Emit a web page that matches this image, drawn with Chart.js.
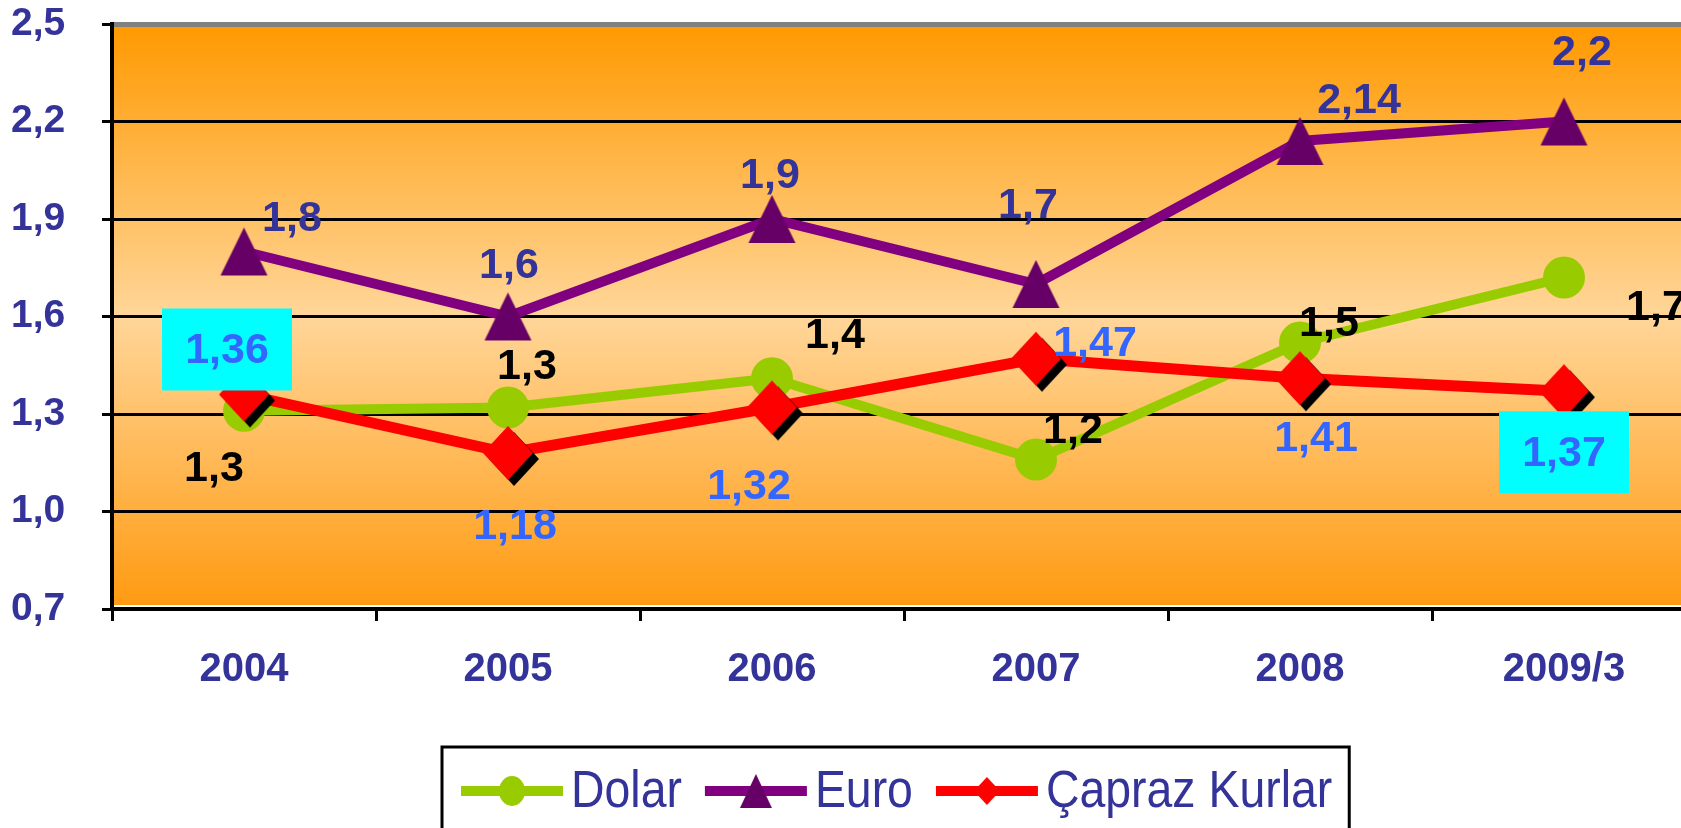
<!DOCTYPE html>
<html>
<head>
<meta charset="utf-8">
<script src="https://cdn.jsdelivr.net/npm/chart.js@4.4.1/dist/chart.umd.min.js"></script>
<style>
  html, body { margin: 0; padding: 0; background: #fff; overflow: hidden; }
  #wrap { position: relative; width: 1698px; height: 828px; }
  canvas { display: block; }
</style>
</head>
<body>
<div id="wrap"><canvas id="chart"></canvas></div>
<script>
// data
const years = ['2004', '2005', '2006', '2007', '2008', '2009/3'];
const dolar = [1.31, 1.32, 1.41, 1.16, 1.52, 1.72];
const euro = [1.8, 1.6, 1.9, 1.7, 2.14, 2.2];
const capraz = [1.36, 1.18, 1.32, 1.47, 1.41, 1.37];
const yTicks = [0.7, 1.0, 1.3, 1.6, 1.9, 2.2, 2.5];
const seriesNames = ['Dolar', 'Euro', 'Çapraz Kurlar'];

const FONT = '"Liberation Sans", Arial, sans-serif';
const NAVY = '#333399';

// build a marker as a small canvas so it can be used as pointStyle
function makeMarker(kind, w, h, color, shadow) {
    const pad = shadow ? shadow + 2 : 2;
    const c = document.createElement('canvas');
    c.width = w + pad * 2;
    c.height = h + pad * 2;
    const g = c.getContext('2d');
    const cx = c.width / 2, cy = c.height / 2;
    function shape(dx, dy) {
        g.beginPath();
        if (kind === 'diamond') {
            g.moveTo(cx + dx, cy - h / 2 + dy);
            g.lineTo(cx + w / 2 + dx, cy + dy);
            g.lineTo(cx + dx, cy + h / 2 + dy);
            g.lineTo(cx - w / 2 + dx, cy + dy);
        } else if (kind === 'triangle') {
            g.moveTo(cx + dx, cy - h / 2 + dy);
            g.lineTo(cx + w / 2 + dx, cy + h / 2 + dy);
            g.lineTo(cx - w / 2 + dx, cy + h / 2 + dy);
        } else {
            g.ellipse(cx + dx, cy + dy, w / 2, h / 2, 0, 0, Math.PI * 2);
        }
        g.closePath();
        g.fill();
    }
    if (shadow) {
        g.fillStyle = '#000';
        shape(shadow, shadow);
    }
    g.fillStyle = color;
    shape(0, 0);
    return c;
}

const triangleImg = makeMarker('triangle', 47, 48, '#660066');
const diamondImg = makeMarker('diamond', 50, 54, '#FF0000', 6);

const legendMarkers = [
    makeMarker('circle', 26, 30, '#99CC00'),
    makeMarker('triangle', 32, 34, '#660066'),
    makeMarker('diamond', 26, 28, '#FF0000')
];

// label placement relative to each point (px)
const labelSpecs = [
    { color: '#000000', format: v => v.toFixed(1).replace('.', ','),
      offsets: [[-30, 56], [19, -42], [63, -44], [37, -30], [29, -20], [92, 29]] },
    { color: NAVY, format: v => String(v).replace('.', ','),
      offsets: [[48, -34], [1, -52], [-2, -45], [-8, -80], [59, -42], [18, -70]] },
    { color: '#3366FF', format: v => v.toFixed(2).replace('.', ','),
      offsets: [[-17, -45], [7, 72], [-23, 78], [59, -17], [16, 59], [0, 61]],
      boxed: [true, false, false, false, false, true] }
];

const backgroundPlugin = {
    id: 'plotBackground',
    beforeDraw(chart) {
        const { ctx, chartArea: a } = chart;
        const grad = ctx.createLinearGradient(0, a.top, 0, a.bottom);
        grad.addColorStop(0, '#FF9900');
        grad.addColorStop(0.5, '#FFD699');
        grad.addColorStop(1, '#FF9A10');
        ctx.save();
        ctx.fillStyle = grad;
        ctx.fillRect(a.left, a.top, a.right - a.left, a.bottom - a.top - 4);
        ctx.restore();
    }
};

const labelPlugin = {
    id: 'pointLabels',
    afterDatasetsDraw(chart) {
        const ctx = chart.ctx;
        ctx.save();
        ctx.font = 'bold 43px ' + FONT;
        ctx.textAlign = 'center';
        ctx.textBaseline = 'middle';
        labelSpecs.forEach((spec, i) => {
            const meta = chart.getDatasetMeta(i);
            meta.data.forEach((pt, j) => {
                const value = chart.data.datasets[i].data[j];
                const x = pt.x + spec.offsets[j][0];
                const y = pt.y + spec.offsets[j][1];
                if (spec.boxed && spec.boxed[j]) {
                    ctx.fillStyle = '#00FFFF';
                    ctx.fillRect(x - 65, y - 41, 130, 82);
                }
                ctx.fillStyle = spec.color;
                ctx.fillText(spec.format(value), x, y + 2);
            });
        });
        ctx.restore();
    }
};

const legendPlugin = {
    id: 'boxLegend',
    afterDraw(chart) {
        const ctx = chart.ctx;
        const top = chart.chartArea.bottom + 138;
        const left = 442;
        const midY = top + 44;
        const squeeze = 0.91;
        ctx.save();
        ctx.font = '51px ' + FONT;
        ctx.textBaseline = 'middle';
        let x = left + 19;
        chart.data.datasets.forEach((ds, i) => {
            ctx.strokeStyle = ds.borderColor;
            ctx.lineWidth = 10;
            ctx.beginPath();
            ctx.moveTo(x, midY);
            ctx.lineTo(x + 102, midY);
            ctx.stroke();
            const m = legendMarkers[i];
            ctx.drawImage(m, x + 51 - m.width / 2, midY - m.height / 2);
            const tw = ctx.measureText(ds.label).width * squeeze;
            ctx.save();
            ctx.translate(x + 110, midY + 2);
            ctx.scale(squeeze, 1);
            ctx.fillStyle = NAVY;
            ctx.fillText(ds.label, 0, 0);
            ctx.restore();
            x += 110 + tw + 23;
        });
        ctx.strokeStyle = '#000';
        ctx.lineWidth = 3;
        ctx.strokeRect(left, top, x - 23 + 17 - left, 200);
        ctx.restore();
    }
};

new Chart(document.getElementById('chart'), {
    type: 'line',
    data: {
        labels: years,
        datasets: [
            {
                label: seriesNames[0],
                data: dolar,
                borderColor: '#99CC00',
                backgroundColor: '#99CC00',
                borderWidth: 10,
                pointStyle: 'circle',
                pointRadius: 21,
                pointBorderWidth: 0,
                order: 3
            },
            {
                label: seriesNames[1],
                data: euro,
                borderColor: '#800080',
                backgroundColor: '#660066',
                borderWidth: 10,
                pointStyle: triangleImg,
                pointRadius: 24,
                order: 2
            },
            {
                label: seriesNames[2],
                data: capraz,
                borderColor: '#FF0000',
                backgroundColor: '#FF0000',
                borderWidth: 11,
                pointStyle: diamondImg,
                pointRadius: 26,
                order: 1
            }
        ]
    },
    options: {
        responsive: true,
        maintainAspectRatio: false,
        animation: false,
        devicePixelRatio: 1,
        layout: {
            autoPadding: false,
            padding: { top: 24, right: 2, left: 11, bottom: 0 }
        },
        plugins: {
            legend: { display: false },
            tooltip: { enabled: false }
        },
        scales: {
            x: {
                offset: true,
                afterFit: s => {
                    s.height = 219;
                    s.paddingLeft = 0;
                    s.paddingRight = 0;
                },
                grid: {
                    offset: true,
                    drawOnChartArea: false,
                    drawTicks: true,
                    tickLength: 12,
                    color: '#000',
                    lineWidth: 3
                },
                border: { color: '#000', width: 4 },
                ticks: {
                    font: { family: FONT, size: 40, weight: 'bold' },
                    color: NAVY,
                    padding: 25
                }
            },
            y: {
                min: 0.7,
                max: 2.5,
                afterBuildTicks: s => { s.ticks = yTicks.map(v => ({ value: v })); },
                afterFit: s => {
                    s.width = 101;
                    s.paddingTop = 0;
                    s.paddingBottom = 0;
                },
                grid: {
                    color: c => (c.tick && c.tick.value === 2.5 ? '#808080' : '#000'),
                    lineWidth: c => (c.tick && c.tick.value === 2.5 ? 5 : 3),
                    tickColor: '#000',
                    tickLength: 10,
                    tickWidth: 3
                },
                border: { color: '#000', width: 4 },
                ticks: {
                    font: { family: FONT, size: 39, weight: 'bold' },
                    color: NAVY,
                    padding: 0,
                    crossAlign: 'far',
                    callback: v => v.toFixed(1).replace('.', ',')
                }
            }
        }
    },
    plugins: [backgroundPlugin, labelPlugin, legendPlugin]
});
</script>
</body>
</html>
